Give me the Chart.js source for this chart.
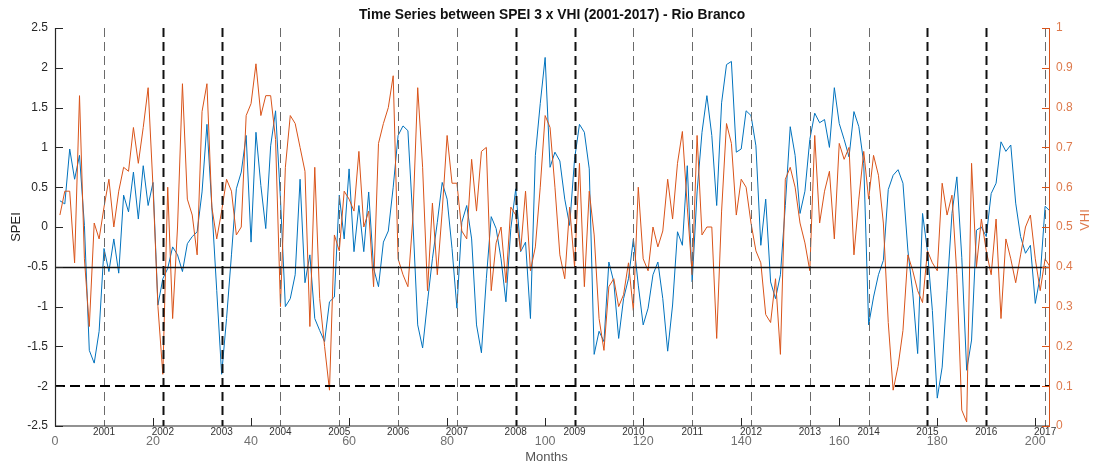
<!DOCTYPE html>
<html><head><meta charset="utf-8">
<script src="https://cdn.jsdelivr.net/npm/chart.js@4.4.1/dist/chart.umd.min.js"></script>
<style>html,body{margin:0;padding:0;background:#fff;}#wrap{width:1095px;height:464px;position:relative;}</style>
</head><body><div id="wrap"><canvas id="c" width="1095" height="464"></canvas></div>
<script>
// ---- data ----
const firstMonth = 1;
const spei = [
 0.33,0.29,0.98,0.60,0.90,0.02,-1.55,-1.71,-1.31,-0.27,
 -0.56,-0.15,-0.58,0.40,0.19,0.69,0.10,0.77,0.27,0.56,
 -0.98,-0.65,-0.52,-0.25,-0.35,-0.56,-0.21,-0.12,-0.06,0.44,
 1.29,0.25,-0.80,-1.85,-1.15,-0.35,0.48,0.69,1.15,-0.19,
 1.19,0.52,-0.02,1.02,1.46,0.35,-1.00,-0.90,-0.60,0.60,
 -0.70,-0.35,-1.15,-1.30,-1.44,-0.94,-0.88,0.40,-0.15,0.73,
 -0.31,0.27,-0.31,0.44,-0.52,-0.75,-0.19,-0.05,0.50,1.15,
 1.27,1.21,0.10,-1.23,-1.52,-0.94,-0.40,0.06,0.56,0.35,
 -0.27,-1.02,0.06,0.27,-0.15,-1.23,-1.58,-0.65,0.13,-0.02,
 -0.40,-0.94,-0.02,0.48,-0.31,-0.19,-1.15,0.90,1.55,2.13,
 0.75,0.94,0.83,0.35,0.02,0.85,1.29,1.19,0.73,-1.60,
 -1.31,-1.44,-0.44,-0.69,-1.40,-0.90,-0.65,-0.15,-0.73,-1.23,
 -1.02,-0.60,-0.44,-0.90,-1.56,-0.98,-0.06,-0.23,0.77,-0.69,
 0.44,1.19,1.65,1.15,0.27,1.56,2.04,2.08,0.94,0.98,
 1.46,1.40,1.02,-0.23,0.35,-0.69,-0.90,-0.60,0.27,1.26,
 0.90,0.17,0.45,1.10,1.43,1.31,1.35,1.00,1.75,1.30,
 1.10,0.88,1.45,1.26,0.80,-1.23,-0.88,-0.60,-0.42,0.47,
 0.65,0.72,0.55,-0.29,-0.83,-1.59,0.17,-0.30,-1.05,-2.15,
 -1.76,-0.80,0.17,0.63,-0.38,-1.80,-1.42,-0.04,0.00,-0.12,
 0.42,0.55,1.07,0.95,1.03,0.30,-0.12,-0.33,-0.23,-0.96,
 -0.62,0.26,0.20
];
const vhi = [
 0.53,0.59,0.59,0.41,0.83,0.42,0.25,0.51,0.47,0.55,
 0.62,0.50,0.59,0.65,0.64,0.75,0.66,0.75,0.85,0.60,
 0.30,0.13,0.60,0.27,0.50,0.86,0.57,0.53,0.43,0.79,
 0.86,0.55,0.47,0.54,0.62,0.59,0.48,0.50,0.78,0.81,
 0.91,0.78,0.83,0.83,0.72,0.30,0.65,0.78,0.76,0.70,
 0.64,0.25,0.65,0.32,0.20,0.09,0.48,0.44,0.59,0.57,
 0.54,0.69,0.50,0.54,0.35,0.71,0.76,0.80,0.88,0.42,
 0.38,0.35,0.52,0.85,0.65,0.34,0.56,0.38,0.54,0.73,
 0.61,0.61,0.49,0.47,0.67,0.54,0.69,0.70,0.34,0.46,
 0.50,0.36,0.55,0.53,0.44,0.59,0.39,0.45,0.60,0.78,
 0.75,0.60,0.43,0.37,0.55,0.40,0.66,0.35,0.59,0.48,
 0.27,0.19,0.35,0.37,0.30,0.33,0.41,0.29,0.60,0.42,
 0.39,0.50,0.45,0.49,0.62,0.52,0.66,0.74,0.55,0.38,
 0.73,0.48,0.50,0.50,0.22,0.54,0.76,0.71,0.53,0.62,
 0.60,0.51,0.44,0.41,0.28,0.26,0.37,0.18,0.62,0.65,
 0.60,0.51,0.46,0.39,0.73,0.51,0.59,0.64,0.47,0.71,
 0.67,0.70,0.43,0.57,0.69,0.57,0.68,0.63,0.51,0.26,
 0.09,0.15,0.24,0.43,0.39,0.34,0.31,0.44,0.41,0.39,
 0.61,0.53,0.58,0.38,0.04,0.01,0.66,0.40,0.52,0.44,
 0.38,0.52,0.27,0.47,0.42,0.36,0.43,0.50,0.53,0.42,
 0.34,0.42,0.40
];
const xTicks = [0,20,40,60,80,100,120,140,160,180,200];
const speiTicks = [-2.5,-2,-1.5,-1,-0.5,0,0.5,1,1.5,2,2.5];
const vhiTicks = [0,0.1,0.2,0.3,0.4,0.5,0.6,0.7,0.8,0.9,1];
const yearLabels = ['2001','2002','2003','2004','2005','2006','2007','2008','2009','2010','2011','2012','2013','2014','2015','2016','2017'];
const yearMonths = [10,22,34,46,58,70,82,94,106,118,130,142,154,166,178,190,202];
const boldYears = ['2002','2003','2008','2009','2015','2016'];
const droughtLine = -0.5;
const severeLine = -2;
const xMin = 0, xMax = 203;

const titleText = 'Time Series between SPEI 3 x VHI (2001-2017) - Rio Branco';
const BLUE = '#0072BD', ORANGE = '#D95319', ORANGE_TXT = '#DE7a4c', AX = '#262626';
const FONT = '"Liberation Sans", Arial, Helvetica, sans-serif';

const speiPts = spei.map((v,i)=>({x: firstMonth+i, y: v}));
const vhiPts = vhi.map((v,i)=>({x: firstMonth+i, y: v}));

const fmt = v => String(+(+v).toFixed(1));

const extras = {
  id: 'extras',
  afterDatasetsDraw(chart) {
    const ctx = chart.ctx, a = chart.chartArea;
    const sx = chart.scales.x, sy = chart.scales.y, sy1 = chart.scales.y1;
    ctx.save();
    // year lines
    yearMonths.forEach((m,i) => {
      const px = Math.round(sx.getPixelForValue(m)) + 0.5;
      const bold = boldYears.includes(yearLabels[i]);
      ctx.beginPath();
      ctx.setLineDash([9,5]);
      ctx.lineWidth = bold ? 2 : 1;
      ctx.strokeStyle = bold ? '#111' : '#6a6a6a';
      ctx.moveTo(px, a.top); ctx.lineTo(px, a.bottom);
      ctx.stroke();
    });
    // severe drought dashed line
    let py = Math.round(sy.getPixelForValue(severeLine));
    ctx.beginPath(); ctx.setLineDash([10,5]); ctx.lineWidth = 2; ctx.strokeStyle = '#000';
    ctx.moveTo(a.left, py); ctx.lineTo(a.right, py); ctx.stroke();
    // drought solid line
    py = Math.round(sy.getPixelForValue(droughtLine)) + 0.5;
    ctx.beginPath(); ctx.setLineDash([]); ctx.lineWidth = 1.5; ctx.strokeStyle = '#111';
    ctx.moveTo(a.left, py); ctx.lineTo(a.right, py); ctx.stroke();
    // axes
    ctx.setLineDash([]);
    ctx.lineWidth = 1.2; ctx.strokeStyle = AX;
    ctx.beginPath(); ctx.moveTo(a.left+0.5, a.top); ctx.lineTo(a.left+0.5, a.bottom); ctx.lineTo(a.right, a.bottom); ctx.stroke();
    ctx.strokeStyle = ORANGE; ctx.lineWidth = 1;
    ctx.beginPath(); ctx.moveTo(a.right-0.5, a.top); ctx.lineTo(a.right-0.5, a.bottom); ctx.stroke();
    // inward ticks
    ctx.strokeStyle = AX; ctx.lineWidth = 1;
    xTicks.forEach(v => { const p = Math.round(sx.getPixelForValue(v))+0.5; ctx.beginPath(); ctx.moveTo(p, a.bottom); ctx.lineTo(p, a.bottom-8); ctx.stroke(); });
    speiTicks.forEach(v => { const p = Math.round(sy.getPixelForValue(v))+0.5; ctx.beginPath(); ctx.moveTo(a.left, p); ctx.lineTo(a.left+8, p); ctx.stroke(); });
    ctx.strokeStyle = ORANGE;
    vhiTicks.forEach(v => { const p = Math.round(sy1.getPixelForValue(v))+0.5; ctx.beginPath(); ctx.moveTo(a.right, p); ctx.lineTo(a.right-8, p); ctx.stroke(); });
    // year labels
    ctx.fillStyle = '#333'; ctx.font = '10px ' + FONT; ctx.textAlign = 'center'; ctx.textBaseline = 'middle';
    yearMonths.forEach((m,i) => ctx.fillText(yearLabels[i], sx.getPixelForValue(m), a.bottom + 6.5));
    // titles
    ctx.fillStyle = '#111'; ctx.font = 'bold 13.8px ' + FONT; ctx.textAlign = 'center';
    ctx.fillText(titleText, 552, 15);
    ctx.fillStyle = '#555'; ctx.font = '13px ' + FONT;
    ctx.fillText('Months', (a.left + a.right)/2 - 6, 457);
    ctx.save(); ctx.translate(16, 227); ctx.rotate(-Math.PI/2);
    ctx.fillStyle = '#222'; ctx.font = '13px ' + FONT; ctx.fillText('SPEI', 0, 0); ctx.restore();
    ctx.save(); ctx.translate(1085, 220); ctx.rotate(-Math.PI/2);
    ctx.fillStyle = ORANGE_TXT; ctx.font = '13px ' + FONT; ctx.fillText('VHI', 0, 0); ctx.restore();
    ctx.restore();
  }
};

new Chart(document.getElementById('c'), {
  type: 'line',
  data: { datasets: [
    { label: 'VHI', data: vhiPts, yAxisID: 'y1', borderColor: ORANGE, borderWidth: 1, pointRadius: 0, tension: 0, order: 1 },
    { label: 'SPEI', data: speiPts, yAxisID: 'y', borderColor: BLUE, borderWidth: 1, pointRadius: 0, tension: 0, order: 2 }
  ]},
  options: {
    responsive: false, animation: false, devicePixelRatio: 1,
    layout: { padding: { top: 28, left: 0, right: 0, bottom: 0 } },
    plugins: { legend: { display: false }, tooltip: { enabled: false }, title: { display: false } },
    scales: {
      x: { type: 'linear', min: xMin, max: xMax,
        afterBuildTicks: s => { s.ticks = xTicks.map(v => ({value: v})); },
        afterFit: s => { s.height = 38; },
        grid: { display: false, drawTicks: false }, border: { display: false },
        ticks: { color: '#707070', font: { size: 12.5, family: FONT }, padding: 8, maxRotation: 0, autoSkip: false, callback: v => String(v) } },
      y: { position: 'left', min: -2.5, max: 2.5,
        afterBuildTicks: s => { s.ticks = speiTicks.map(v => ({value: v})); },
        afterFit: s => { s.width = 55; },
        grid: { display: false, drawTicks: false }, border: { display: false },
        ticks: { color: AX, font: { size: 12, family: FONT }, padding: 7, callback: v => fmt(v) } },
      y1: { position: 'right', min: 0, max: 1,
        afterBuildTicks: s => { s.ticks = vhiTicks.map(v => ({value: v})); },
        afterFit: s => { s.width = 45; },
        grid: { display: false, drawTicks: false }, border: { display: false },
        ticks: { color: ORANGE_TXT, font: { size: 12, family: FONT }, padding: 6, callback: v => fmt(v) } }
    }
  },
  plugins: [extras]
});
</script></body></html>
